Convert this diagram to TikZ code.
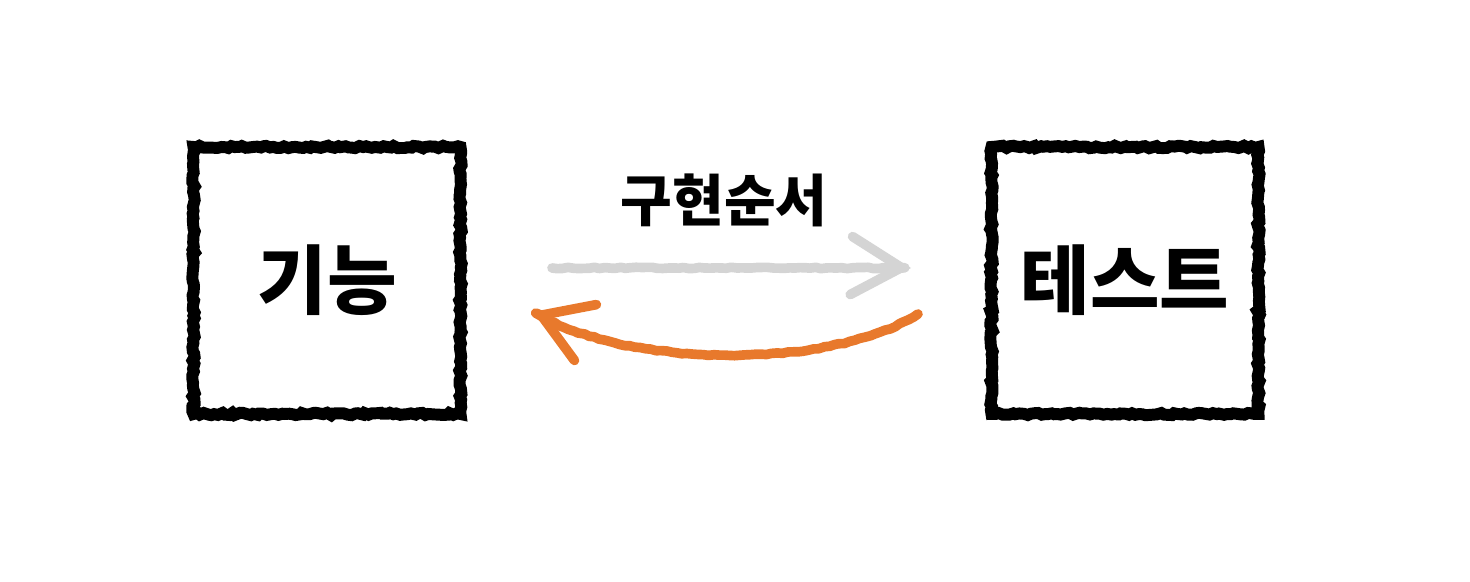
\documentclass[tikz,border=0pt]{standalone}
\usepackage{fontspec}
\newfontfamily\krfont{Noto Sans CJK KR}
\usetikzlibrary{arrows.meta,decorations.pathmorphing}
\definecolor{chalkgray}{HTML}{D4D4D4}
\definecolor{chalkorange}{HTML}{E8792C}
\begin{document}
\begin{tikzpicture}[semithick,
  roughbox/.style={draw,line width=6.8pt,minimum size=5.34cm,inner sep=0pt,
    decorate,decoration={random steps,segment length=2pt,amplitude=0.7pt},
    font=\krfont\bfseries\fontsize{43}{43}\selectfont},
  chalk/.style={line width=5.5pt,line cap=round,line join=round,
    decorate,decoration={random steps,segment length=3pt,amplitude=0.4pt}}]
\useasboundingbox (0,0) rectangle (29.4,11.64);
\node[roughbox] (func) at (6.54,6.03) {기능};
\node[roughbox] (test) at (22.5,6.03) {테스트};
\node[font=\krfont\bfseries\fontsize{32}{32}\selectfont] (order) at (14.48,7.64) {구현순서};
\coordinate (g1) at (11.04,6.28);\coordinate (g2) at (18.22,6.28);
\coordinate (o1) at (18.36,5.36);\coordinate (o2) at (10.66,5.40);
\draw[chalk,chalkgray,-{Straight Barb[length=1cm,width=1.16cm,line cap=round]}] (g1)--(g2);
\draw[chalk,chalkorange,-{Straight Barb[length=0.95cm,width=1.2cm,line cap=round]}]
  (o1) .. controls (16.5,4.2) and (12.5,4.3) .. (o2);
\end{tikzpicture}
\end{document}
